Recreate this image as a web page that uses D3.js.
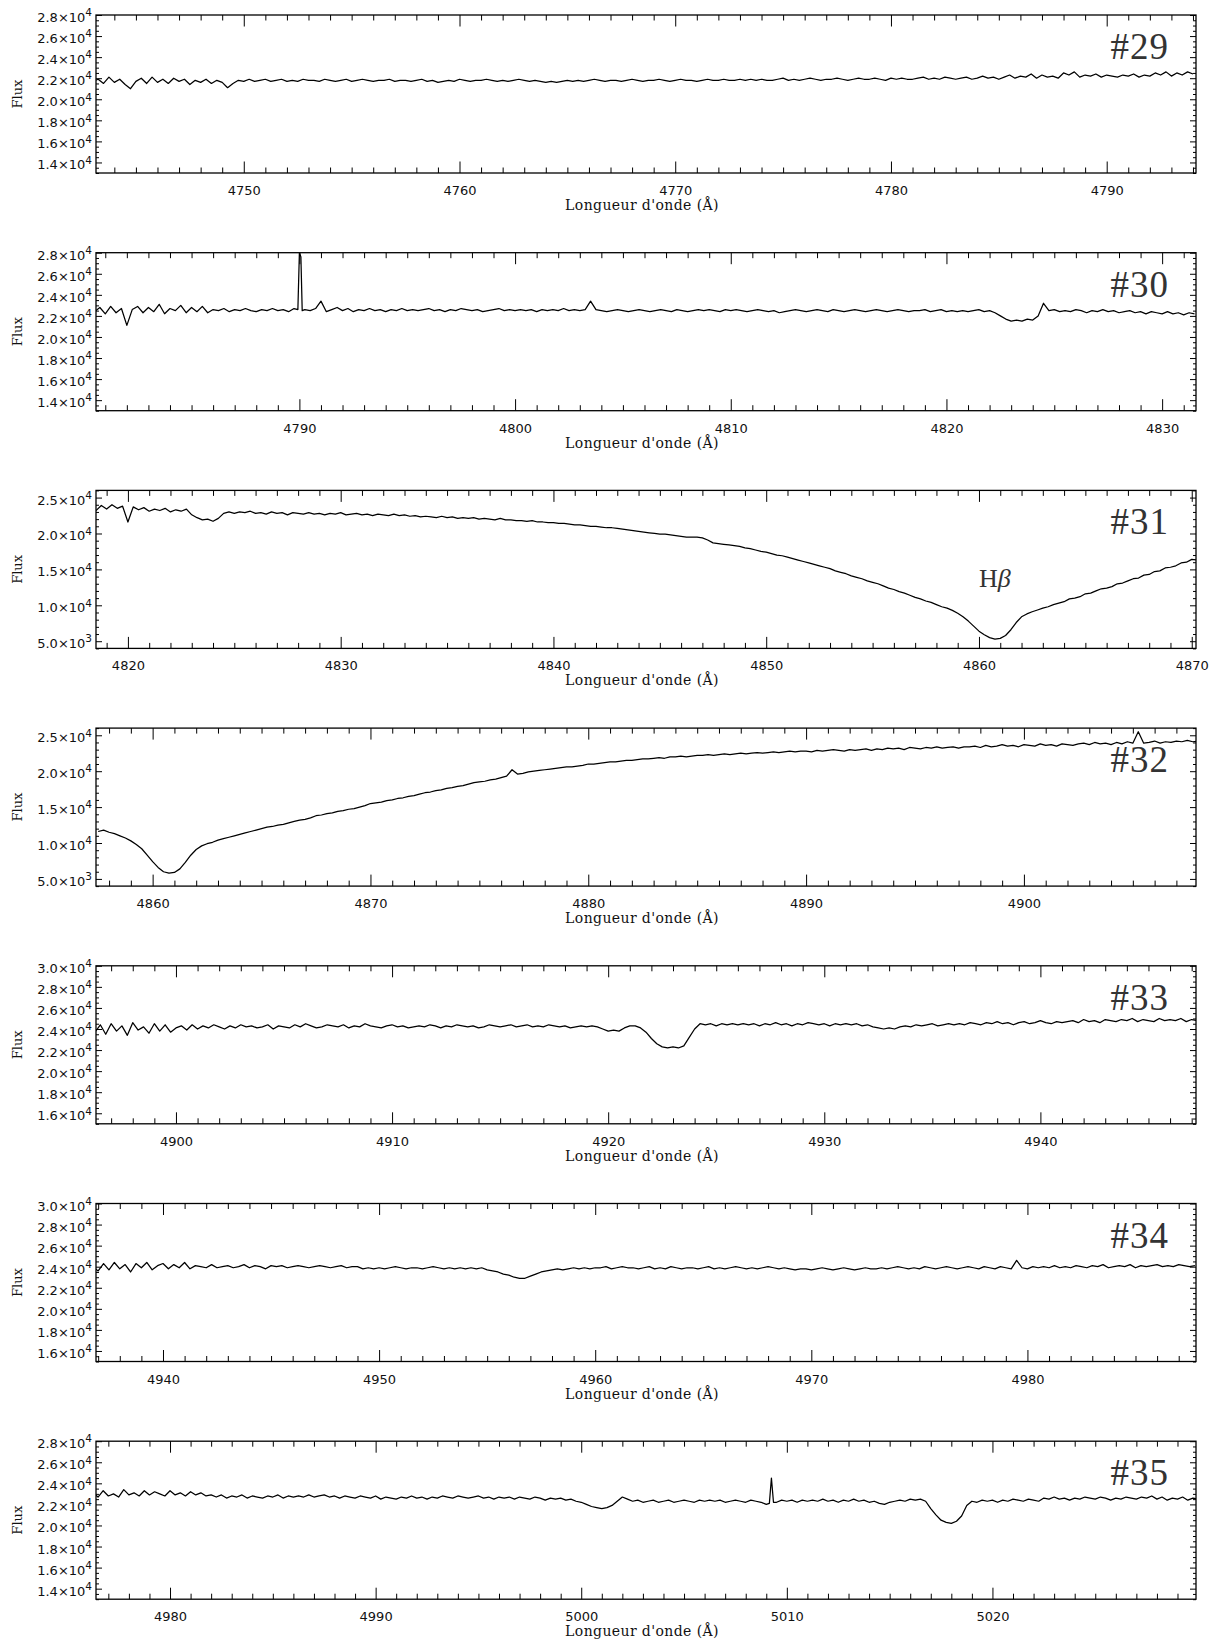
<!DOCTYPE html>
<html><head><meta charset="utf-8">
<script src="https://cdn.jsdelivr.net/npm/d3@7"></script>
<style>body{margin:0;background:#fff}svg{display:block}</style>
</head><body>
<svg id="chart" width="1212" height="1645"></svg>
<script>
// ---------------- DATA (flux in units of 10^3) ----------------
const tags = ["#29","#30","#31","#32","#33","#34","#35"];
const xDomains = [[4743.15,4794.14],[4780.57,4831.57],[4818.5,4870.2],[4857.4,4907.9],[4896.3,4947.2],[4936.9,4987.8],[4976.4,5029.9]];
const yDomains = [[13,28],[13,28],[4,26],[4,26],[15,30],[15,30],[13,28]];
const yMajorTicks = [[14,16,18,20,22,24,26,28],[14,16,18,20,22,24,26,28],[5,10,15,20,25],[5,10,15,20,25],[16,18,20,22,24,26,28,30],[16,18,20,22,24,26,28,30],[14,16,18,20,22,24,26,28]];
const yMinorSteps = [0.5,0.5,1,1,0.5,0.5,0.5];
const lambdaStarts = [4743.0,4780.5,4818.5,4857.5,4896.25,4936.75,4976.25];
const lambdaStep = 0.25;

const flux29 = [21.7,
21.9,21.5,22.1,21.6,21.9,21.4,21.0,21.7,22.0,21.5,22.1,21.6,21.9,21.5,22.0,21.7,21.9,21.4,21.8,21.6,
21.9,21.5,21.8,21.6,21.1,21.5,21.8,21.7,21.9,21.7,21.8,21.9,21.7,21.8,21.9,21.7,21.8,21.7,21.9,21.8,
21.8,21.7,21.9,21.8,21.7,21.8,21.9,21.7,21.8,21.9,21.8,21.7,21.8,21.8,21.9,21.7,21.8,21.8,21.7,21.8,
21.9,21.7,21.8,21.6,21.7,21.8,21.7,21.9,21.8,21.7,21.8,21.8,21.9,21.8,21.7,21.8,21.7,21.8,21.9,21.8,
21.7,21.8,21.7,21.6,21.7,21.6,21.7,21.8,21.7,21.8,21.7,21.8,21.9,21.8,21.7,21.8,21.8,21.7,21.8,21.9,
21.8,21.7,21.8,21.8,21.9,21.8,21.7,21.8,21.9,21.8,21.8,21.7,21.8,21.9,21.8,21.8,21.9,21.8,21.8,21.9,
21.8,21.9,21.8,21.9,21.8,21.8,21.9,22.0,21.8,21.9,21.8,21.9,22.0,21.9,21.8,21.9,21.9,22.0,21.9,21.8,
21.9,22.0,21.9,21.9,22.0,21.9,21.8,22.0,21.9,22.0,21.9,21.9,22.0,22.1,21.9,22.0,21.9,22.1,22.0,21.9,
22.0,22.1,21.9,22.0,22.2,22.0,22.1,21.9,22.1,22.3,22.0,22.2,22.1,22.4,22.0,22.3,22.1,22.2,22.0,22.5,
22.3,22.6,22.1,22.3,22.2,22.4,22.1,22.3,22.2,22.1,22.3,22.2,22.4,22.1,22.3,22.2,22.5,22.3,22.6,22.2,
22.5,22.3,22.6,22.4];

const flux30 = [
22.4,22.8,22.2,22.9,22.3,22.7,21.1,22.6,22.9,22.3,22.8,22.4,23.1,22.2,22.7,22.5,23.0,22.3,22.8,22.4,
22.9,22.3,22.6,22.5,22.7,22.4,22.6,22.5,22.7,22.5,22.4,22.6,22.5,22.7,22.5,22.6,22.4,22.7,28.0,22.6,
22.5,22.7,23.4,22.4,22.6,22.8,22.5,22.7,22.4,22.6,22.5,22.7,22.5,22.6,22.4,22.6,22.5,22.7,22.5,22.6,
22.5,22.6,22.7,22.5,22.6,22.4,22.6,22.5,22.7,22.6,22.5,22.6,22.4,22.5,22.6,22.7,22.5,22.6,22.5,22.6,
22.5,22.6,22.4,22.6,22.5,22.6,22.5,22.7,22.5,22.6,22.5,22.6,23.4,22.6,22.5,22.4,22.5,22.6,22.5,22.4,
22.5,22.6,22.5,22.4,22.5,22.6,22.5,22.4,22.6,22.5,22.4,22.5,22.6,22.5,22.6,22.5,22.4,22.6,22.5,22.6,
22.5,22.4,22.5,22.6,22.5,22.4,22.5,22.3,22.4,22.5,22.6,22.5,22.4,22.5,22.6,22.5,22.4,22.6,22.5,22.4,
22.5,22.6,22.5,22.4,22.5,22.6,22.5,22.4,22.5,22.6,22.5,22.4,22.5,22.5,22.6,22.4,22.5,22.6,22.4,22.5,
22.4,22.5,22.4,22.5,22.6,22.4,22.5,22.3,22.0,21.7,21.5,21.6,21.5,21.7,21.6,22.0,23.2,22.5,22.6,22.4,
22.5,22.4,22.6,22.5,22.3,22.5,22.4,22.6,22.4,22.5,22.3,22.4,22.5,22.3,22.4,22.2,22.4,22.3,22.2,22.4,
22.2,22.3,22.1,22.3,22.2];

const flux31 = [
23.2,23.9,23.4,24.0,23.5,23.8,21.6,23.7,23.3,23.6,23.1,23.4,23.2,23.5,23.0,23.3,23.1,23.4,22.6,22.2,
21.9,22.0,21.7,22.1,22.8,23.0,22.8,23.0,22.9,23.1,22.8,22.9,22.7,23.0,22.8,22.9,22.6,22.9,22.8,22.7,
22.9,22.7,22.8,22.6,22.8,22.7,22.9,22.6,22.7,22.8,22.6,22.7,22.5,22.7,22.6,22.5,22.7,22.5,22.6,22.4,
22.5,22.3,22.4,22.3,22.2,22.4,22.2,22.3,22.1,22.2,22.1,22.2,22.0,22.1,22.0,21.9,22.1,21.9,21.9,21.8,
21.8,21.7,21.8,21.6,21.6,21.5,21.5,21.4,21.4,21.3,21.2,21.2,21.1,21.0,21.0,20.9,20.8,20.8,20.7,20.6,
20.5,20.4,20.3,20.2,20.1,20.0,19.9,19.9,19.8,19.7,19.6,19.5,19.5,19.5,19.4,19.1,18.7,18.6,18.5,18.4,
18.3,18.2,18.0,17.9,17.7,17.5,17.4,17.2,17.0,16.9,16.7,16.5,16.3,16.1,15.9,15.7,15.5,15.3,15.1,14.8,
14.6,14.4,14.1,13.9,13.7,13.4,13.2,13.0,12.7,12.4,12.2,11.9,11.7,11.4,11.1,10.9,10.6,10.4,10.1,9.8,
9.6,9.3,8.9,8.4,7.8,7.1,6.4,5.9,5.5,5.3,5.4,5.8,6.6,7.6,8.4,8.8,9.1,9.35,9.6,9.8,
10.1,10.3,10.5,10.9,11.0,11.2,11.6,11.7,12.0,12.3,12.4,12.6,13.0,13.1,13.4,13.7,13.8,14.2,14.3,14.7,
14.8,15.2,15.3,15.5,15.9,16.0,16.4,16.3];

const flux32 = [
11.6,11.8,11.5,11.3,11.0,10.7,10.3,9.8,9.2,8.3,7.4,6.6,6.0,5.8,5.9,6.4,7.3,8.3,9.1,9.6,
9.9,10.1,10.4,10.6,10.8,11.0,11.2,11.4,11.6,11.8,12.0,12.2,12.3,12.5,12.6,12.8,13.0,13.2,13.3,13.5,
13.8,13.9,14.1,14.2,14.4,14.5,14.7,14.8,15.0,15.2,15.5,15.6,15.7,15.9,16.0,16.2,16.3,16.5,16.6,16.8,
17.0,17.1,17.3,17.4,17.6,17.7,17.9,18.0,18.2,18.4,18.5,18.6,18.8,18.9,19.1,19.3,20.2,19.6,19.7,19.9,
20.0,20.1,20.2,20.3,20.4,20.5,20.6,20.6,20.7,20.8,21.0,21.0,21.1,21.2,21.3,21.3,21.4,21.5,21.5,21.6,
21.7,21.7,21.8,21.9,21.8,22.0,22.0,22.1,22.0,22.1,22.2,22.2,22.3,22.2,22.3,22.4,22.3,22.4,22.5,22.4,
22.5,22.6,22.5,22.6,22.7,22.6,22.7,22.8,22.7,22.8,22.8,22.7,22.9,22.8,22.9,23.0,22.9,22.8,23.0,22.9,
23.0,23.1,22.9,23.1,23.0,23.2,23.1,23.2,23.0,23.3,23.2,23.1,23.3,23.2,23.4,23.2,23.3,23.4,23.2,23.4,
23.4,23.5,23.3,23.6,23.4,23.5,23.7,23.5,23.6,23.4,23.7,23.6,23.5,23.8,23.6,23.7,23.5,23.8,23.7,23.6,
23.8,23.9,23.7,24.0,23.8,23.9,23.7,24.0,23.8,24.1,23.9,25.5,23.9,24.0,24.2,23.9,24.1,24.0,24.2,24.1,
24.3,24.1,24.2];

const flux33 = [
23.7,24.4,23.5,24.5,23.8,24.3,23.4,24.6,23.9,24.2,23.6,24.5,23.8,24.4,23.7,24.1,24.3,23.9,24.4,24.0,
24.3,24.1,24.4,24.2,24.0,24.3,24.1,24.4,24.2,24.3,24.1,24.2,24.4,24.0,24.3,24.2,24.1,24.4,24.2,24.5,
24.3,24.1,24.2,24.4,24.3,24.2,24.4,24.1,24.3,24.2,24.5,24.3,24.2,24.1,24.3,24.4,24.2,24.3,24.1,24.2,
24.3,24.2,24.4,24.3,24.1,24.3,24.2,24.4,24.3,24.2,24.3,24.1,24.2,24.4,24.3,24.2,24.3,24.4,24.2,24.3,
24.4,24.2,24.3,24.2,24.4,24.3,24.2,24.3,24.1,24.2,24.3,24.2,24.3,24.2,24.0,23.8,23.9,23.8,24.1,24.3,
24.3,24.1,23.7,23.1,22.6,22.3,22.2,22.3,22.2,22.4,23.2,24.0,24.5,24.4,24.5,24.3,24.5,24.4,24.5,24.4,
24.5,24.4,24.5,24.3,24.5,24.4,24.6,24.4,24.5,24.3,24.5,24.4,24.6,24.5,24.4,24.5,24.3,24.5,24.4,24.5,
24.4,24.5,24.3,24.4,24.2,24.1,24.0,24.1,24.0,24.2,24.3,24.2,24.4,24.3,24.4,24.5,24.3,24.4,24.5,24.4,
24.5,24.4,24.6,24.5,24.4,24.6,24.5,24.7,24.5,24.6,24.4,24.6,24.7,24.5,24.6,24.8,24.6,24.5,24.7,24.6,
24.7,24.8,24.6,24.9,24.7,24.8,24.6,24.9,24.8,24.7,24.9,24.8,25.0,24.7,24.9,24.8,24.7,25.0,24.8,24.9,
24.8,25.0,24.7,24.9,24.8];

const flux34 = [
24.0,23.6,24.3,23.7,24.4,23.8,24.2,23.5,24.3,23.9,24.4,23.7,24.1,24.3,23.8,24.2,23.9,24.4,23.8,24.1,
24.0,23.9,24.2,23.9,24.0,24.1,23.9,24.0,24.2,23.9,24.1,24.0,23.8,24.1,24.0,24.1,23.9,24.0,24.1,24.0,
23.9,24.0,24.1,24.0,23.9,24.0,24.1,23.9,24.0,24.0,23.8,23.9,23.8,23.9,23.8,23.9,24.0,23.9,23.8,23.9,
23.9,23.8,23.9,24.0,23.9,23.8,23.9,23.8,23.9,23.8,23.9,23.8,23.9,23.7,23.6,23.5,23.3,23.2,23.0,22.9,
22.9,23.1,23.3,23.5,23.6,23.7,23.8,23.7,23.8,23.9,23.8,23.9,23.8,23.9,23.9,24.0,23.8,23.9,24.0,23.9,
23.9,23.8,23.9,24.0,23.8,23.9,23.8,24.0,23.9,23.8,23.9,23.9,23.8,23.9,24.0,23.8,23.9,23.8,23.9,24.0,
23.9,23.8,23.9,23.8,23.9,24.0,23.9,23.8,23.9,23.8,23.7,23.8,23.8,23.7,23.8,23.9,23.8,23.7,23.8,23.9,
23.8,23.7,23.8,23.9,23.8,23.8,23.9,23.8,23.9,24.0,23.9,23.8,23.9,23.8,24.0,23.9,23.8,23.9,24.0,23.9,
23.8,23.9,24.0,23.9,23.8,24.0,23.9,23.8,24.0,23.9,23.8,24.6,23.9,23.8,24.0,23.9,24.0,23.9,24.1,23.9,
24.0,23.9,24.1,24.0,23.9,24.1,24.0,24.2,23.9,24.0,24.1,24.0,24.2,23.9,24.1,24.0,24.1,24.2,24.0,24.1,
24.0,24.2,24.1,24.0,24.1];

const flux35 = [
23.1,22.7,23.3,22.8,23.0,22.7,23.4,22.9,23.1,22.8,23.3,22.9,23.2,23.0,22.8,23.3,22.9,23.1,22.8,23.2,
22.9,23.1,22.8,22.9,22.7,22.9,22.6,22.8,22.7,22.9,22.6,22.8,22.7,22.6,22.8,22.7,22.9,22.6,22.8,22.7,
22.8,22.7,22.9,22.7,22.8,22.9,22.7,22.8,22.6,22.8,22.7,22.6,22.8,22.7,22.6,22.8,22.5,22.7,22.6,22.5,
22.7,22.6,22.8,22.6,22.7,22.5,22.7,22.6,22.8,22.7,22.6,22.8,22.7,22.6,22.7,22.8,22.6,22.7,22.5,22.7,
22.6,22.7,22.5,22.7,22.6,22.5,22.7,22.6,22.4,22.6,22.5,22.6,22.4,22.5,22.3,22.2,22.0,21.8,21.7,21.6,
21.7,21.9,22.3,22.7,22.5,22.3,22.4,22.2,22.3,22.4,22.2,22.3,22.4,22.2,22.3,22.4,22.3,22.2,22.4,22.3,
22.4,22.3,22.4,22.2,22.3,22.4,22.3,22.2,22.4,22.3,22.2,22.0,24.5,22.2,22.4,22.3,22.4,22.2,22.4,22.3,
22.4,22.3,22.5,22.3,22.4,22.2,22.4,22.3,22.5,22.3,22.4,22.2,22.3,22.1,22.0,22.2,22.3,22.4,22.3,22.5,
22.4,22.5,22.3,21.6,21.0,20.5,20.3,20.2,20.4,20.9,21.9,22.3,22.2,22.4,22.3,22.4,22.2,22.4,22.3,22.5,
22.4,22.3,22.5,22.4,22.3,22.6,22.5,22.7,22.5,22.6,22.4,22.6,22.5,22.7,22.6,22.5,22.7,22.6,22.4,22.6,
22.5,22.7,22.6,22.5,22.7,22.6,22.8,22.5,22.7,22.4,22.6,22.5,22.7,22.4,22.6,22.5];

// narrow features sampled more finely: [wavelength, flux]
const extras30 = [[4789.93,22.6],[4790.07,27.6],[4790.13,22.5]];
const extras35 = [[5009.15,22.1],[5009.35,22.2]];

const fluxSeries = [flux29,flux30,flux31,flux32,flux33,flux34,flux35];
const extraSeries = [[],extras30,[],[],[],[],extras35];

// ---------------- DRAWING ----------------
const svg = d3.select("#chart");
const L = 96, R = 1196, H = 158, T0 = 15, GAP = 237.7;
const tickFont = "'DejaVu Sans', sans-serif";
const titleFont = "'DejaVu Serif', serif";

function fmtY(v){
  const f = v*1000;
  const e = Math.floor(Math.log10(f) + 1e-9);
  const m = f/Math.pow(10,e);
  return [m.toFixed(1), String(e)];
}

tags.forEach((tag,k)=>{
  const top = T0 + k*GAP;
  const g = svg.append("g").attr("transform",`translate(0,${top})`);
  const xd = xDomains[k], yd = yDomains[k];
  const x = d3.scaleLinear().domain(xd).range([L,R]);
  const y = d3.scaleLinear().domain(yd).range([H,0]);

  const clipId = "clip"+k;
  g.append("clipPath").attr("id",clipId).append("rect")
    .attr("x",L).attr("y",0).attr("width",R-L).attr("height",H);

  const pts = fluxSeries[k].map((v,i)=>[lambdaStarts[k]+i*lambdaStep, v])
    .concat(extraSeries[k]).sort((a,b)=>a[0]-b[0]);
  g.append("path")
    .attr("clip-path",`url(#${clipId})`)
    .attr("d", d3.line().x(d=>x(d[0])).y(d=>y(d[1]))(pts))
    .attr("fill","none").attr("stroke","#000").attr("stroke-width",1.25)
    .attr("stroke-linejoin","round");

  const xMaj = d3.range(Math.ceil(xd[0]/10)*10, xd[1]+1e-9, 10);
  const xMin = d3.range(Math.ceil(xd[0]), xd[1]+1e-9, 1).filter(v=>Math.round(v)%10!==0);
  const yMaj = yMajorTicks[k];
  const ys = yMinorSteps[k];
  const yMin = d3.range(Math.ceil(yd[0]/ys)*ys, yd[1]+1e-9, ys)
    .filter(v=>!yMaj.some(m=>Math.abs(m-v)<1e-6));

  const style = sel => { sel.select(".domain").remove(); sel.selectAll("line").attr("stroke","#000").attr("stroke-width",1); };

  g.append("g").attr("transform",`translate(0,${H})`)
    .call(d3.axisBottom(x).tickValues(xMin).tickSize(-5.5).tickSizeOuter(0).tickFormat("")).call(style);
  const bx = g.append("g").attr("transform",`translate(0,${H})`)
    .call(d3.axisBottom(x).tickValues(xMaj).tickSize(-11.5).tickSizeOuter(0).tickFormat(d3.format("d"))).call(style);
  bx.selectAll("text").attr("y",22).attr("dy",null)
    .attr("font-family",tickFont).attr("font-size",13).attr("fill","#111");
  g.append("g").call(d3.axisTop(x).tickValues(xMin).tickSize(-5.5).tickSizeOuter(0).tickFormat("")).call(style);
  g.append("g").call(d3.axisTop(x).tickValues(xMaj).tickSize(-11.5).tickSizeOuter(0).tickFormat("")).call(style);

  g.append("g").attr("transform",`translate(${L},0)`)
    .call(d3.axisLeft(y).tickValues(yMin).tickSize(-3).tickSizeOuter(0).tickFormat("")).call(style);
  const ly = g.append("g").attr("transform",`translate(${L},0)`)
    .call(d3.axisLeft(y).tickValues(yMaj).tickSize(-6).tickSizeOuter(0)).call(style);
  ly.selectAll("text").each(function(d){
    const [m,e] = fmtY(d);
    const t = d3.select(this).text(null)
      .attr("x",-4).attr("dy","0.5em")
      .attr("font-family",tickFont).attr("font-size",13).attr("fill","#111");
    t.append("tspan").text(m+"×10");
    t.append("tspan").attr("dy","-0.55em").attr("font-size",10.5).text(e);
  });
  g.append("g").attr("transform",`translate(${R},0)`)
    .call(d3.axisRight(y).tickValues(yMin).tickSize(-3).tickSizeOuter(0).tickFormat("")).call(style);
  g.append("g").attr("transform",`translate(${R},0)`)
    .call(d3.axisRight(y).tickValues(yMaj).tickSize(-6).tickSizeOuter(0).tickFormat("")).call(style);

  g.append("rect").attr("x",L).attr("y",0).attr("width",R-L).attr("height",H)
    .attr("fill","none").attr("stroke","#000").attr("stroke-width",1.3);

  g.append("text").attr("transform",`translate(21.5,${H/2}) rotate(-90)`)
    .attr("text-anchor","middle").attr("font-family",titleFont).attr("font-size",13)
    .attr("fill","#111").text("Flux");
  g.append("text").attr("x",(L+R)/2 - 4).attr("y",H+37)
    .attr("text-anchor","middle").attr("font-family",titleFont).attr("font-size",14)
    .attr("letter-spacing",0.4).attr("fill","#111").text("Longueur d'onde (Å)");
  g.append("text").attr("x",1169).attr("y",44).attr("text-anchor","end")
    .attr("font-family","'Liberation Serif', serif").attr("font-size",37)
    .attr("letter-spacing",1).attr("fill","#333").text(tag);

  if (k===2){
    const hb = g.append("text").attr("x",979).attr("y",97)
      .attr("font-family","'Liberation Serif', serif").attr("font-size",26).attr("fill","#333");
    hb.append("tspan").text("H");
    hb.append("tspan").attr("font-style","italic").text("β");
  }
});
</script>
</body></html>
